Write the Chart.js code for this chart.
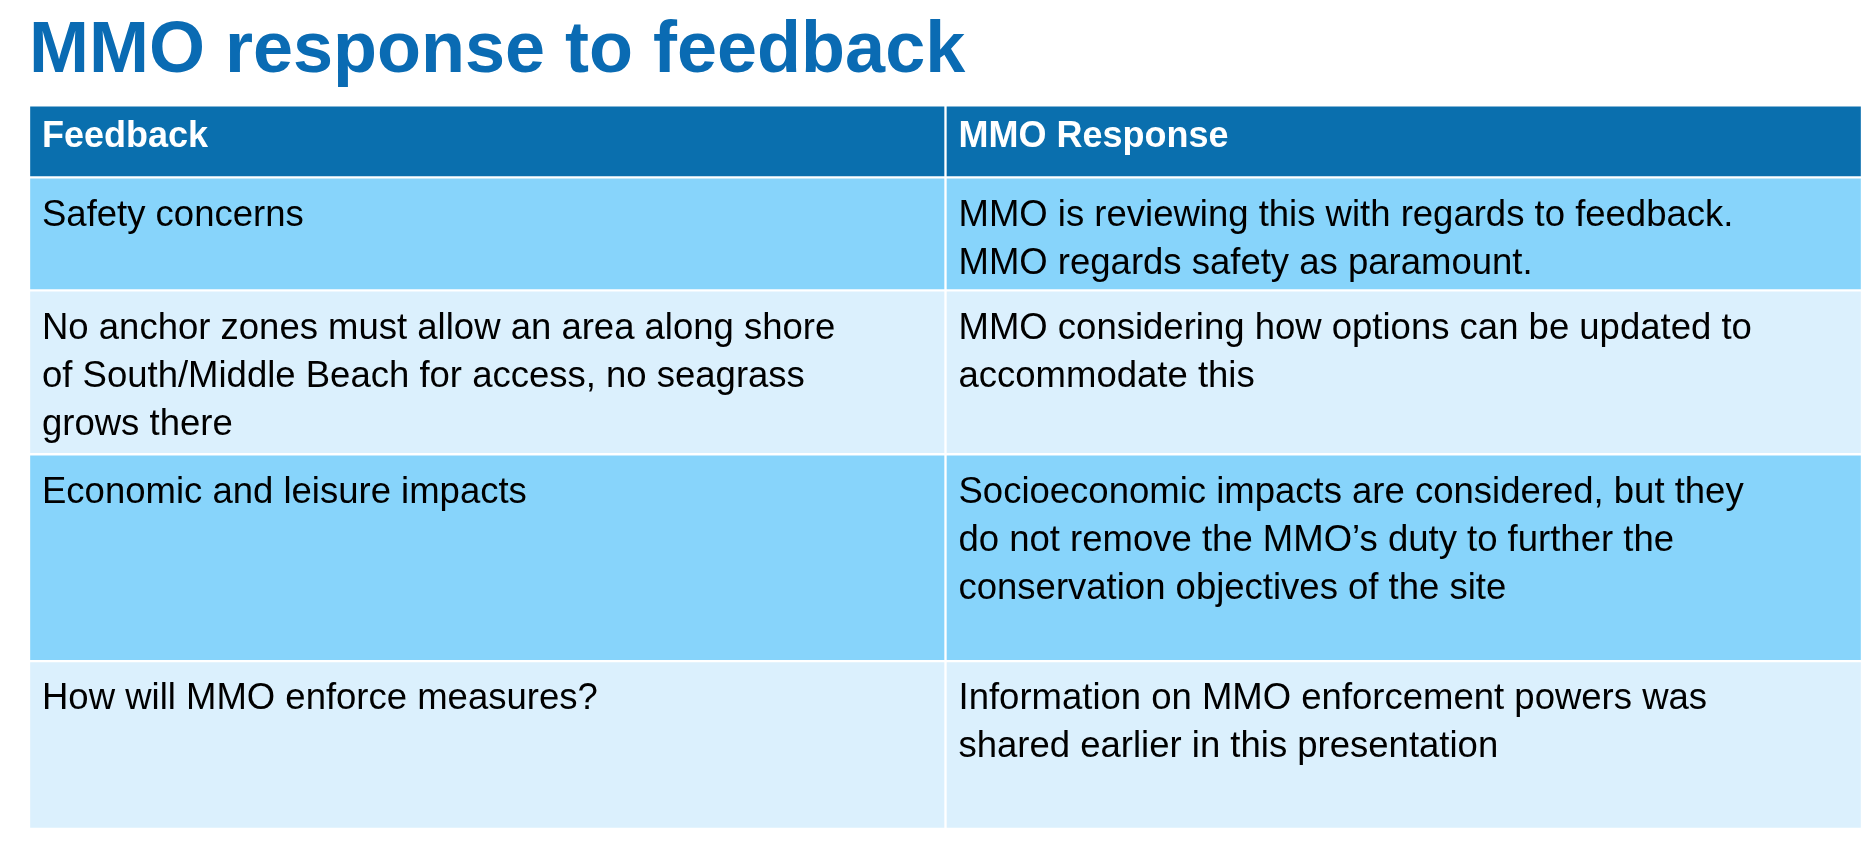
<!DOCTYPE html>
<html>
<head>
<meta charset="utf-8">
<script src="https://cdn.jsdelivr.net/npm/chart.js@4/dist/chart.umd.min.js"></script>
<style>
  html, body { margin: 0; padding: 0; background: #fff; }
  #wrap { width: 1874px; height: 849px; }
</style>
</head>
<body>
<div id="wrap"><canvas id="tabla"></canvas></div>
<script>
// DATOS
const columnas = ['Feedback', 'MMO Response'];
const filas = ['Header', 'Safety', 'Anchor', 'Economic', 'Enforce'];
const altoFilas = [72, 113, 164, 207, 168];
const coloresFilas = ['#0a6fae', '#87d4fb', '#dbf0fd', '#87d4fb', '#dbf0fd'];
const textos = [
  [['Feedback'], ['MMO Response']],
  [['Safety concerns'], ['MMO is reviewing this with regards to feedback.', 'MMO regards safety as paramount.']],
  [['No anchor zones must allow an area along shore', 'of South/Middle Beach for access, no seagrass', 'grows there'],
   ['MMO considering how options can be updated to', 'accommodate this']],
  [['Economic and leisure impacts'],
   ['Socioeconomic impacts are considered, but they', 'do not remove the MMO\u2019s duty to further the', 'conservation objectives of the site']],
  [['How will MMO enforce measures?'],
   ['Information on MMO enforcement powers was', 'shared earlier in this presentation']]
];

// ----------------------------
// FILAS COMO BARRAS FLOTANTES
let acumulado = 0;
const datasets = filas.map((fila, i) => {
  const inicio = acumulado;
  acumulado += altoFilas[i];
  return {
    label: fila,
    data: columnas.map(() => [inicio, acumulado]),
    backgroundColor: coloresFilas[i],
    borderColor: '#ffffff',
    borderWidth: 1.5,
    borderSkipped: false,
    grouped: false,
    barPercentage: 1,
    categoryPercentage: 1
  };
});

const textoCeldas = {
  id: 'textoCeldas',
  afterDatasetsDraw(chart) {
    const ctx = chart.ctx;
    ctx.save();
    chart.data.datasets.forEach((ds, i) => {
      const meta = chart.getDatasetMeta(i);
      meta.data.forEach((bar, j) => {
        const izq = bar.x - bar.width / 2 + 13;
        const arriba = Math.min(bar.y, bar.base);
        const abajo = Math.max(bar.y, bar.base);
        const lineas = textos[i][j];
        if (i === 0) {
          ctx.font = 'bold 36px "Liberation Sans", Arial, sans-serif';
          ctx.fillStyle = '#ffffff';
          ctx.textBaseline = 'middle';
          ctx.fillText(lineas[0], izq, (arriba + abajo) / 2 - 4);
        } else {
          ctx.font = '36.5px "Liberation Sans", Arial, sans-serif';
          ctx.fillStyle = '#000000';
          ctx.textBaseline = 'top';
          lineas.forEach((l, k) => ctx.fillText(l, izq, arriba + 20 + k * 48));
        }
      });
    });
    ctx.restore();
  }
};

new Chart(document.getElementById('tabla'), {
  type: 'bar',
  data: { labels: columnas, datasets },
  options: {
    responsive: true,
    maintainAspectRatio: false,
    animation: false,
    layout: { padding: { top: 3, left: 29, right: 12, bottom: 20 } },
    plugins: {
      legend: { display: false },
      tooltip: { enabled: false },
      title: {
        display: true,
        text: 'MMO response to feedback',
        align: 'start',
        color: '#0a6bb3',
        font: { family: '"Liberation Sans", Arial, sans-serif', size: 72, weight: 'bold', lineHeight: 1.2 },
        padding: { top: 6, bottom: 10 }
      }
    },
    scales: {
      x: { display: false },
      y: { display: false, reverse: true, min: 0, max: acumulado }
    }
  },
  plugins: [textoCeldas]
});
</script>
</body>
</html>
